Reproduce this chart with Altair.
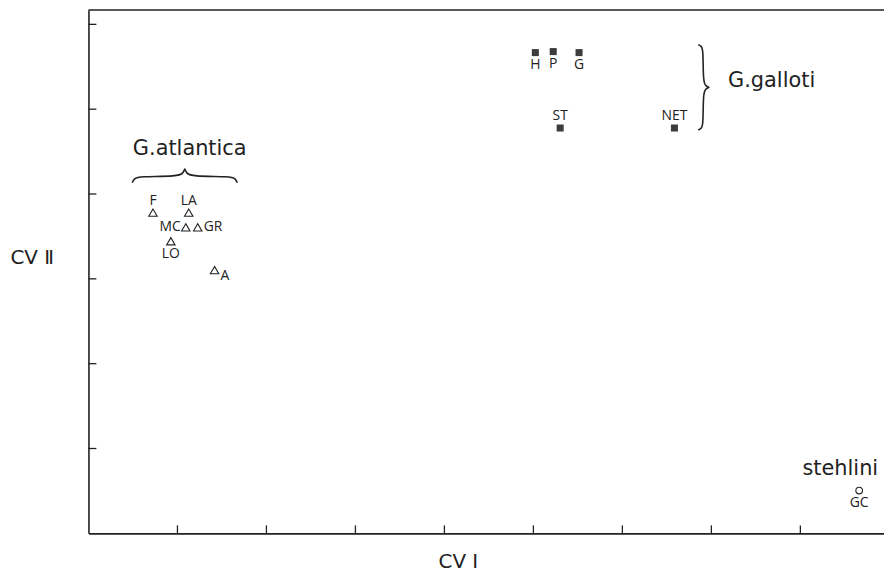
import altair as alt
import pandas as pd

# ---- data (axis units) ----
X_MAX = 8.94
Y_MAX = 6.17
X_TICKS = [1, 2, 3, 4, 5, 6, 7, 8]
Y_TICKS = [1, 2, 3, 4, 5, 6]

atl_labels = ["F", "LA", "MC", "GR", "LO", "A"]
atl_x = [0.725, 1.127, 1.094, 1.228, 0.926, 1.417]
atl_y = [3.78, 3.78, 3.607, 3.607, 3.443, 3.103]

gal_labels = ["H", "P", "G", "ST", "NET"]
gal_x = [5.022, 5.223, 5.513, 5.301, 6.585]
gal_y = [5.667, 5.679, 5.667, 4.778, 4.778]

ste_labels = ["GC"]
ste_x = [8.661]
ste_y = [0.504]

group_names = ["G.atlantica", "G.galloti", "stehlini"]
group_x = [1.138, 7.188, 8.449]
group_y = [4.532, 5.328, 0.761]

# brace anchors: start, end along the brace, base and tip across it
brace_v = dict(start=5.761, end=4.754, base=6.853, tip=6.975)  # vertical, opens to the right
brace_h = dict(start=0.491, end=1.674, base=4.133, tip=4.297)  # horizontal, opens upward

# label placement (which side of the marker each label sits)
placement = {"F": "above", "LA": "above", "MC": "left", "GR": "right", "LO": "below",
             "A": "rightlow", "H": "below", "P": "below", "G": "below", "ST": "above",
             "NET": "above", "GC": "below"}
OFFSETS = {"above": (0, -12, "center"), "below": (0, 13, "center"),
           "left": (-5, 0, "right"), "right": (6, 0, "left"), "rightlow": (6, 6, "left")}

W, H = 801, 527
INK = "#222222"

xs = alt.Scale(domain=[0, X_MAX], nice=False, zero=False)
ys = alt.Scale(domain=[0, Y_MAX], nice=False, zero=False)

pts = pd.concat([
    pd.DataFrame({"label": atl_labels, "x": atl_x, "y": atl_y, "grp": "atl"}),
    pd.DataFrame({"label": gal_labels, "x": gal_x, "y": gal_y, "grp": "gal"}),
    pd.DataFrame({"label": ste_labels, "x": ste_x, "y": ste_y, "grp": "ste"}),
], ignore_index=True)
pts["place"] = pts["label"].map(placement)


def brace(a, vertical, name):
    # normalized brace shape: (fraction along, fraction of depth)
    shape = [(0, 0), (0.02, 0.3), (0.06, 0.45), (0.44, 0.45), (0.485, 0.7),
             (0.5, 1.0), (0.5, 1.0), (0.515, 0.7), (0.56, 0.45), (0.94, 0.45),
             (0.98, 0.3), (1, 0)]
    rows = []
    for i, (s, o) in enumerate(shape):
        along = a["start"] + s * (a["end"] - a["start"])
        across = a["base"] + o * (a["tip"] - a["base"])
        if vertical:
            rows.append({"x": across, "y": along, "o": i, "b": name})
        else:
            rows.append({"x": along, "y": across, "o": i, "b": name})
    return rows


braces = pd.DataFrame(brace(brace_v, True, "v") + brace(brace_h, False, "h"))

x_axis = alt.Axis(values=X_TICKS, labels=False, ticks=False, grid=False,
                  domainColor=INK, domainWidth=1.6, title="CV Ⅰ",
                  titleFont="DejaVu Sans", titleFontSize=20, titleFontWeight="normal",
                  titleColor=INK, titleX=372, titleY=28, titleAlign="center",
                  titleBaseline="middle")
y_axis = alt.Axis(values=Y_TICKS, labels=False, ticks=False, grid=False,
                  domainColor=INK, domainWidth=1.6, title="CV Ⅱ",
                  titleFont="DejaVu Sans", titleFontSize=20, titleFontWeight="normal",
                  titleColor=INK, titleAngle=0, titleX=-79, titleY=249,
                  titleAlign="left", titleBaseline="middle")


def X(field="x"):
    return alt.X(f"{field}:Q", scale=xs, axis=x_axis)


def Y(field="y"):
    return alt.Y(f"{field}:Q", scale=ys, axis=y_axis)


base = alt.Chart(pts)

tri = base.transform_filter(alt.datum.grp == "atl").mark_point(
    shape="triangle-up", filled=False, size=72, strokeWidth=1.1, color=INK, opacity=1
).encode(x=X(), y=Y())

sq = base.transform_filter(alt.datum.grp == "gal").mark_point(
    shape="square", filled=True, size=50, color="#3c3c3c", opacity=1
).encode(x=X(), y=Y())

circ = base.transform_filter(alt.datum.grp == "ste").mark_point(
    shape="circle", filled=False, size=45, strokeWidth=1.1, color=INK, opacity=1
).encode(x=X(), y=Y())

label_layers = []
for place, (dx, dy, align) in OFFSETS.items():
    label_layers.append(
        base.transform_filter(alt.datum.place == place).mark_text(
            font="Open Sans", fontSize=14, color=INK, dx=dx, dy=dy, align=align,
            baseline="middle"
        ).encode(x=X(), y=Y(), text="label:N")
    )

groups = pd.DataFrame({"name": group_names, "x": group_x, "y": group_y,
                       "al": ["center", "left", "center"]})
grp_center = alt.Chart(groups).transform_filter(alt.datum.al == "center").mark_text(
    font="DejaVu Sans", fontSize=21, color=INK, align="center", baseline="middle"
).encode(x=X(), y=Y(), text="name:N")
grp_left = alt.Chart(groups).transform_filter(alt.datum.al == "left").mark_text(
    font="DejaVu Sans", fontSize=21, color=INK, align="left", baseline="middle"
).encode(x=X(), y=Y(), text="name:N")

brace_lines = alt.Chart(braces).mark_line(
    color=INK, strokeWidth=1.6, interpolate="basis"
).encode(x=X(), y=Y(), order="o:Q", detail="b:N")

xt = alt.Chart(pd.DataFrame({"t": X_TICKS})).mark_rule(color=INK, strokeWidth=1.3).encode(
    x=X("t"), y=alt.value(H), y2=alt.value(H - 8))
yt = alt.Chart(pd.DataFrame({"t": Y_TICKS})).mark_rule(color=INK, strokeWidth=1.3).encode(
    y=Y("t"), x=alt.value(0), x2=alt.value(8))
top = alt.Chart(pd.DataFrame({"t": [Y_MAX]})).mark_rule(color=INK, strokeWidth=1.6).encode(
    y=Y("t"), x=alt.value(0), x2=alt.value(W))

chart = alt.layer(
    tri, sq, circ, *label_layers, grp_center, grp_left, brace_lines, xt, yt, top
).properties(
    width=W, height=H,
    autosize=alt.AutoSizeParams(type="none"),
    padding={"left": 81, "top": 0, "right": 0, "bottom": 40},
    background="white",
).configure_view(stroke=None)

chart.save("out.html", embed_options={"renderer": "svg", "actions": False})
